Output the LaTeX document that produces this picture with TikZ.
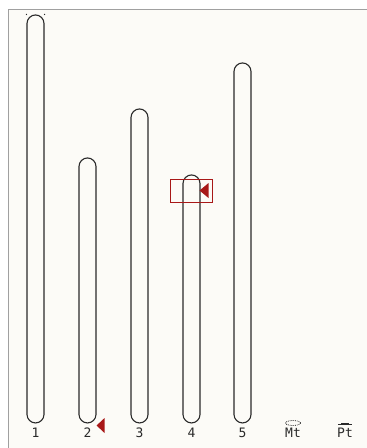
\documentclass[tikz,border=0pt]{standalone}
\usepackage{fontspec}
\setmonofont{DejaVu Sans Mono}
\usepackage{xcolor}
\usepackage{tikz}
\usetikzlibrary{shapes,positioning,calc}

\definecolor{paper}{HTML}{FCFBF7}
\definecolor{framegray}{HTML}{A0A0A0}
\definecolor{chromline}{HTML}{2A2A2A}
\definecolor{hitred}{HTML}{A81818}

\begin{document}
\begin{tikzpicture}[x=1pt,y=-1pt,chrom/.style={rectangle,rounded corners=8.5pt,draw=chromline,line width=1.1pt,minimum width=17pt,inner sep=0pt,anchor=south},lab/.style={font=\ttfamily\fontsize{13}{14}\selectfont,text=chromline,inner sep=0pt},hitbox/.style={rectangle,draw=hitred,line width=0.9pt,minimum width=42pt,minimum height=23pt,inner sep=0pt}]
    \useasboundingbox (0,0) rectangle (367,448);
    \fill[paper] (8,9) rectangle (367,448);
    \draw[framegray,line width=1pt] (367,9) -- (8,9) -- (8,448);

    \node[chrom,minimum height=408pt] (chr1) at (35.5,423.5) {};
    \node[chrom,minimum height=265pt] (chr2) at (87.5,423.5) {};
    \node[chrom,minimum height=314pt] (chr3) at (139.5,423.5) {};
    \node[chrom,minimum height=248pt] (chr4) at (191.5,423.5) {};
    \node[chrom,minimum height=360pt] (chr5) at (242.5,423.5) {};

    \node[lab,below=4pt of chr1] (lab1) {1};
    \node[lab,below=4pt of chr2] (lab2) {2};
    \node[lab,below=4pt of chr3] (lab3) {3};
    \node[lab,below=4pt of chr4] (lab4) {4};
    \node[lab,below=4pt of chr5] (lab5) {5};
    \node[lab,anchor=north] (labmt) at (293,427.5) {Mt};
    \node[lab,anchor=north] (labpt) at (345,427.5) {Pt};

    % organelle marks
    \draw[chromline,densely dotted,line width=0.8pt] ($(labmt.north)+(0,-4.5)$) ellipse (7.5pt and 2.5pt);
    \draw[chromline,line width=0.8pt] ($(labpt.north)+(-7,-3.5)$) -- ++(14,0);
    \draw[chromline,line width=2pt] ($(labpt.north)+(-4,-4)$) -- ++(8,0);

    % telomere ticks
    \fill[chromline] (chr1.north west) circle (0.7pt);
    \fill[chromline] (chr1.north east) circle (0.7pt);

    % hits
    \node[hitbox] (hit4) at (191,190.5) {};
    \fill[hitred] ($(chr4.east |- hit4.center)+(-1,0)$) -- ++(9,-7.5) -- ++(0,15) -- cycle;
    \fill[hitred] ($(chr2.south east)+(0,2)$) -- ++(8,-7.5) -- ++(0,15) -- cycle;

\end{tikzpicture}
\end{document}
